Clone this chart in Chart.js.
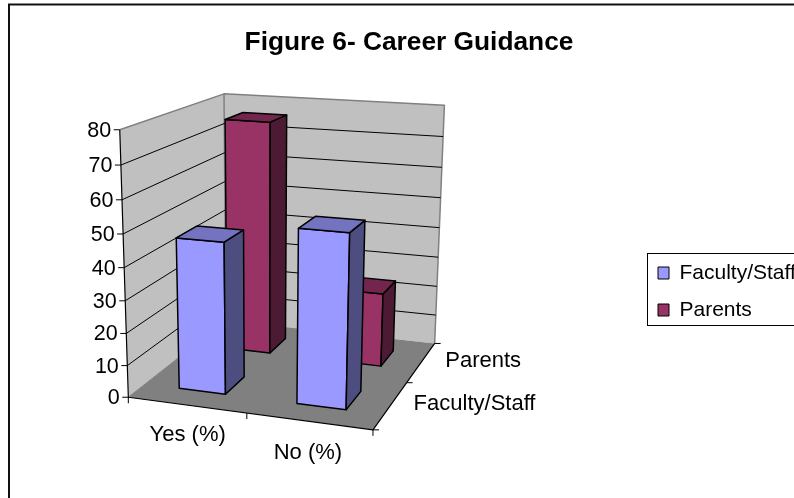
<!DOCTYPE html>
<html>
<head>
<meta charset="utf-8">
<style>html,body{margin:0;padding:0;background:#fff;overflow:hidden}canvas{display:block}</style>
<script src="https://cdn.jsdelivr.net/npm/chart.js@4"></script>
</head>
<body>
<div style="width:794px;height:498px"><canvas id="c" width="794" height="498"></canvas></div>
<script>
const titleText = 'Figure 6- Career Guidance';
const categories = ['Yes (%)', 'No (%)'];
const depthLabels = ['Faculty/Staff', 'Parents'];
const facultyStaff = [47, 53];
const parents = [76, 24];
const yMin = 0, yMax = 80, yStep = 10;

const FONT = '"Liberation Sans", Arial, sans-serif';
const ANCHORS = [
  [0,0,0,129,395],[1,0,0,373,432],[1,0,1,435,341],[0,0,1,225,323],
  [0,1,0,119,130],[0,1,1,225,93],[1,1,1,444,106]
];
const CATEGORY_LABEL_OFFSET = [[1,30],[-1,32]];
const DEPTH_LABEL_OFFSET = [[23,-1],[24,-1]];
function fitProjection(pts){
  const A = Array.from({length:11},()=>new Array(12).fill(0));
  const add = (r,b)=>{for(let i=0;i<11;i++){for(let j=0;j<11;j++)A[i][j]+=r[i]*r[j];A[i][11]+=r[i]*b;}};
  pts.forEach(([u,v,w,X,Y])=>{
    const x=X/400,y=Y/400;
    add([u,v,w,1,0,0,0,0,-x*u,-x*v,-x*w],x);
    add([0,0,0,0,u,v,w,1,-y*u,-y*v,-y*w],y);
  });
  for(let c=0;c<11;c++){
    let m=c;for(let r=c+1;r<11;r++)if(Math.abs(A[r][c])>Math.abs(A[m][c]))m=r;
    [A[c],A[m]]=[A[m],A[c]];
    for(let r=0;r<11;r++){if(r===c)continue;const f=A[r][c]/A[c][c];for(let k=c;k<12;k++)A[r][k]-=f*A[c][k];}
  }
  return A.map((row,i)=>row[11]/row[i]);
}
const P = fitProjection(ANCHORS);
function project(u,v,w){
  const d=P[8]*u+P[9]*v+P[10]*w+1;
  return [400*(P[0]*u+P[1]*v+P[2]*w+P[3])/d,400*(P[4]*u+P[5]*v+P[6]*w+P[7])/d];
}
function poly(ctx,pts,fill,stroke,lw){
  ctx.beginPath();
  pts.forEach((p,i)=>{const q=project(p[0],p[1],p[2]);i?ctx.lineTo(q[0],q[1]):ctx.moveTo(q[0],q[1]);});
  if(fill){ctx.closePath();ctx.fillStyle=fill;ctx.fill();}
  if(stroke){ctx.strokeStyle=stroke;ctx.lineWidth=lw||1;ctx.lineJoin='round';ctx.stroke();}
}
const fracX=(s,v)=>(s.getPixelForValue(v)-s.left)/s.width;
const fracY=(s,v)=>(s.bottom-s.getPixelForValue(v))/s.height;

class Bar3D extends Chart.BarController{
  draw(){
    const ctx=this.chart.ctx, sc=this.chart.scales, meta=this._cachedMeta, ds=this.getDataset();
    const hu=0.1, hw=0.1;
    const w0=fracX(sc.z,this.index);
    meta.data.forEach((_,i)=>{
      const parsed=this.getParsed(i);
      const u0=fracX(sc.x,parsed.x), v=fracY(sc.y,parsed.y);
      const a=u0-hu,b=u0+hu,f=w0-hw,k=w0+hw;
      const [front,side,top]=ds.faceColors;
      poly(ctx,[[a,0,f],[b,0,f],[b,v,f],[a,v,f]],front,'#000',1.5);
      poly(ctx,[[b,0,f],[b,0,k],[b,v,k],[b,v,f]],side,'#000',1.5);
      poly(ctx,[[a,v,f],[b,v,f],[b,v,k],[a,v,k]],top,'#000',1.5);
    });
  }
}
Bar3D.id='bar3d';
Bar3D.defaults=Chart.BarController.defaults;
Bar3D.overrides=Chart.BarController.overrides;
Chart.register(Bar3D);

const scene={
  id:'scene',
  afterLayout(chart){
    chart.legend.left=642; chart.legend.right=642+165; chart.legend.top=246.5;
    chart.titleBlock.left=24; chart.titleBlock.right=794; chart.titleBlock.top=27;chart.titleBlock.bottom=59;
  },
  beforeDraw(chart){
    const ctx=chart.ctx;
    ctx.save();
    ctx.strokeStyle='#111';ctx.lineWidth=2;
    ctx.beginPath();ctx.moveTo(9,498);ctx.lineTo(9,4.5);ctx.lineTo(794,4.5);ctx.stroke();
    ctx.lineWidth=1;ctx.strokeStyle='#000';
    ctx.strokeRect(647.5,253.5,160,72);
    ctx.restore();
  },
  beforeDatasetsDraw(chart){
    const ctx=chart.ctx, y=chart.scales.y, x=chart.scales.x, z=chart.scales.z;
    ctx.save();
    poly(ctx,[[0,0,1],[1,0,1],[1,1,1],[0,1,1]],'#c0c0c0');
    poly(ctx,[[0,0,0],[0,0,1],[0,1,1],[0,1,0]],'#c0c0c0');
    poly(ctx,[[0,0,0],[1,0,0],[1,0,1],[0,0,1]],'#808080');
    poly(ctx,[[0,1,0],[0,1,1],[1,1,1],[1,0,1]],null,'#808080',1.5);
    poly(ctx,[[0,0,1],[0,1,1]],null,'#808080',1.5);
    poly(ctx,[[0,0,0],[0,0,1]],null,'#808080',1);
    y.ticks.forEach(t=>{
      const v=fracY(y,t.value);
      if(v>0&&v<1)poly(ctx,[[0,v,0],[0,v,1],[1,v,1]],null,'#000',1);
    });
    poly(ctx,[[0,1,0],[0,0,0],[1,0,0],[1,0,1]],null,'#000',1.2);
    ctx.fillStyle='#000';ctx.strokeStyle='#000';ctx.lineWidth=1;
    ctx.font='21.5px '+FONT;ctx.textBaseline='middle';
    ctx.textAlign='right';
    y.ticks.forEach(t=>{
      const p=project(0,fracY(y,t.value),0);
      ctx.beginPath();ctx.moveTo(p[0],p[1]);ctx.lineTo(p[0]-6,p[1]);ctx.stroke();
      ctx.fillText(String(t.value),p[0]-8.5,p[1]+1);
    });
    [0,0.5,1].forEach(u=>{
      const p=project(u,0,0);
      ctx.beginPath();ctx.moveTo(p[0],p[1]);ctx.lineTo(p[0],p[1]+6);ctx.stroke();
    });
    [0,0.5,1].forEach(w=>{
      const p=project(1,0,w);
      ctx.beginPath();ctx.moveTo(p[0],p[1]);ctx.lineTo(p[0]+6,p[1]);ctx.stroke();
    });
    ctx.font='22px '+FONT;
    ctx.textAlign='center';
    x.getLabels().forEach((lab,i)=>{
      const p=project(fracX(x,i),0,0);
      ctx.fillText(lab,p[0]+CATEGORY_LABEL_OFFSET[i][0],p[1]+CATEGORY_LABEL_OFFSET[i][1]);
    });
    ctx.textAlign='left';
    z.getLabels().forEach((lab,i)=>{
      const p=project(1,0,fracX(z,i));
      ctx.fillText(lab,p[0]+DEPTH_LABEL_OFFSET[i][0],p[1]+DEPTH_LABEL_OFFSET[i][1]);
    });
    ctx.restore();
  }
};

new Chart(document.getElementById('c'),{
  type:'bar3d',
  data:{labels:categories,datasets:[
    {label:depthLabels[0],data:facultyStaff,backgroundColor:'#9999ff',borderColor:'#000',borderWidth:1,faceColors:['#9999ff','#4d4d80','#7373bf']},
    {label:depthLabels[1],data:parents,backgroundColor:'#993366',borderColor:'#000',borderWidth:1,faceColors:['#993366','#4d1a33','#73264d']}
  ]},
  plugins:[scene],
  options:{
    responsive:false,animation:false,events:[],
    devicePixelRatio:1,
    scales:{
      x:{type:'category',offset:true,display:false},
      y:{type:'linear',min:yMin,max:yMax,display:false,ticks:{stepSize:yStep}},
      z:{type:'category',axis:'x',position:'bottom',labels:depthLabels,offset:true,display:false}
    },
    plugins:{
      tooltip:{enabled:false},
      title:{display:true,text:titleText,color:'#000',font:{family:FONT,size:26.3,weight:'bold'},padding:0},
      legend:{position:'right',align:'start',labels:{color:'#000',font:{family:FONT,size:21},boxWidth:11,boxHeight:12,padding:16}}
    }
  }
});
</script>
</body>
</html>
